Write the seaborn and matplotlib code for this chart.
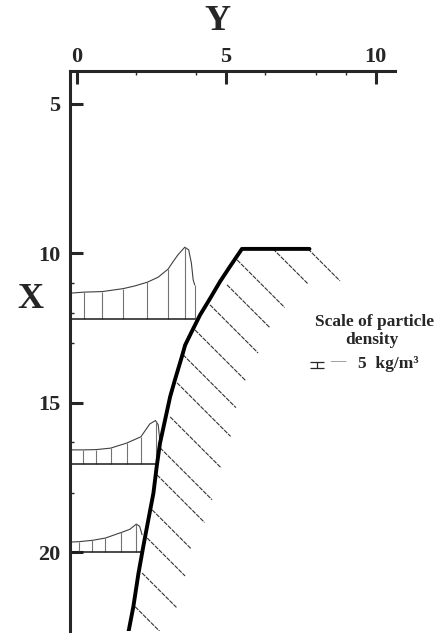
import numpy as np
import pandas as pd
import seaborn as sns
import matplotlib.pyplot as plt

# Ticks of the two axes (Y on top, X downwards on the left)
y_ticks = [0, 5, 10]
x_ticks = [5, 10, 15, 20]
y_minor = [2, 4, 6.3, 8, 9]
x_minor = [11, 12, 13, 16.3, 18]

# Wall contour (Y, X)
wall_y = [7.79, 5.53, 5.13, 4.80, 4.47, 4.13, 3.85, 3.63, 3.52, 3.29, 3.13,
          2.96, 2.79, 2.68, 2.57, 2.40, 2.23, 2.07, 1.90, 1.73]
wall_x = [9.85, 9.85, 10.44, 10.94, 11.50, 12.06, 12.62, 13.07, 13.46, 14.23,
          14.79, 15.57, 16.35, 17.13, 18.02, 18.91, 19.81, 20.70, 21.81, 22.69]

# Hatch marks behind the wall: start point and length (45 deg)
hatch_y0 = [7.74, 6.57, 5.37, 5.03, 4.46, 3.96, 3.56, 3.36, 3.13, 2.79, 2.69,
            2.53, 2.36, 2.19, 1.96]
hatch_x0 = [9.85, 9.85, 10.22, 11.05, 11.72, 12.56, 13.39, 14.33, 15.47, 16.50,
            17.41, 18.58, 19.52, 20.69, 21.82]
hatch_len = [1.07, 1.17, 1.59, 1.44, 1.61, 1.71, 1.77, 1.79, 1.71, 1.74, 1.59,
             1.30, 1.27, 1.15, 1.00]

# Particle density profiles (kg/m3) along three sections
p1_base = 12.20
p1_y = [-0.22, 0.25, 0.86, 1.56, 1.95, 2.37, 2.73, 3.06, 3.23, 3.39, 3.62,
        3.75, 3.84, 3.90, 3.95]
p1_rho = [19.3, 20.1, 20.5, 22.7, 24.7, 27.5, 31.2, 37.2, 42.8, 47.8, 53.5,
          51.5, 41.6, 29.2, 25.5]
p1_stems = [0.25, 0.86, 1.56, 2.37, 3.06, 3.62, 3.95]

p2_base = 17.04
p2_y = [-0.22, 0.22, 0.66, 1.14, 1.67, 2.15, 2.45, 2.64, 2.73, 2.79]
p2_rho = [10.4, 10.4, 10.6, 11.7, 15.4, 20.1, 29.7, 32.2, 29.0, 16.4]
p2_stems = [0.22, 0.66, 1.14, 1.67, 2.15, 2.64]

p3_base = 19.99
p3_y = [-0.22, 0.07, 0.52, 0.96, 1.50, 1.78, 2.00, 2.11, 2.19]
p3_rho = [7.4, 7.7, 8.7, 10.4, 14.6, 16.9, 20.8, 19.1, 12.9]
p3_stems = [0.07, 0.52, 0.96, 1.50, 2.00]

RHO_SCALE = 0.045  # X units per kg/m3
SCALE_RHO = 5  # kg/m3 of the scale bar


def draw_profile(ax, base, ys, rho, stems, y_end):
    """Dibuja un perfil de densidad sobre su linea base."""
    df = pd.DataFrame({"Y": ys, "X": base - np.array(rho) * RHO_SCALE})
    sns.lineplot(data=df, x="Y", y="X", sort=False, estimator=None,
                 color="0.25", lw=0.8, ax=ax)
    tops = base - np.interp(stems, ys, rho) * RHO_SCALE
    ax.vlines(stems, tops, base, color="0.45", lw=0.8)
    ax.plot([ys[0], y_end], [base, base], color="0.1", lw=1.1)


def main():
    sns.set_style("ticks")
    plt.rcParams["font.family"] = ["Liberation Serif", "DejaVu Serif"]

    fig = plt.figure(figsize=(4.43, 6.34), dpi=100)
    ax = fig.add_axes([70 / 443, 1 - 631 / 634, 325 / 443, 560 / 634])

    # hatch lines
    for y0, x0, L in zip(hatch_y0, hatch_x0, hatch_len):
        ax.plot([y0, y0 + L], [x0, x0 + L], color="0.2", lw=0.8,
                ls=(0, (4, 1)), zorder=2)

    # density profiles
    draw_profile(ax, p1_base, p1_y, p1_rho, p1_stems, p1_y[-1])
    draw_profile(ax, p2_base, p2_y, p2_rho, p2_stems, 2.67)
    draw_profile(ax, p3_base, p3_y, p3_rho, p3_stems, 2.19)

    # wall
    wall = pd.DataFrame({"Y": wall_y, "X": wall_x})
    sns.lineplot(data=wall, x="Y", y="X", sort=False, estimator=None,
                 color="black", lw=2.8, ax=ax, zorder=5)

    ax.set_xlim(-0.22, 10.65)
    ax.set_ylim(22.63, 3.90)

    # axes: Y on top, X on the left
    ax.xaxis.tick_top()
    ax.set_xticks(y_ticks)
    ax.set_xticks(y_minor, minor=True)
    ax.set_yticks(x_ticks)
    ax.set_yticks(x_minor, minor=True)
    ax.tick_params(which="major", direction="in", length=9, width=2.2,
                   labelsize=16, pad=3)
    ax.tick_params(axis="y", which="major", pad=7)
    ax.tick_params(which="minor", direction="in", length=3, width=1)
    for lab in ax.get_xticklabels() + ax.get_yticklabels():
        lab.set_fontweight("bold")
    ax.set_xlabel("")
    ax.set_ylabel("")
    for side in ["right", "bottom"]:
        ax.spines[side].set_visible(False)
    for side in ["top", "left"]:
        ax.spines[side].set_linewidth(2.2)

    fig.text(217 / 443, 1 - 21 / 634, "Y", fontsize=26, fontweight="bold",
             ha="center", va="center")
    fig.text(30 / 443, 1 - 300 / 634, "X", fontsize=26, fontweight="bold",
             ha="center", va="center")

    # density scale legend
    ax.text(9.98, 12.31, "Scale of particle", fontsize=12.5, fontweight="bold",
            ha="center", va="center")
    ax.text(9.88, 12.89, "density", fontsize=12.5, fontweight="bold",
            ha="center", va="center")
    ax.errorbar([8.04], [13.73], yerr=SCALE_RHO * RHO_SCALE / 2, fmt="none",
                ecolor="0.15", elinewidth=0.9, capsize=5, capthick=0.9)
    ax.text(8.75, 13.62, "\u2014", fontsize=11, color="0.5", ha="center",
            va="center")
    ax.text(9.41, 13.70, "5  kg/m\u00b3", fontsize=12.5, fontweight="bold",
            ha="left", va="center")

    fig.savefig("out.png", dpi=100)


if __name__ == "__main__":
    main()
